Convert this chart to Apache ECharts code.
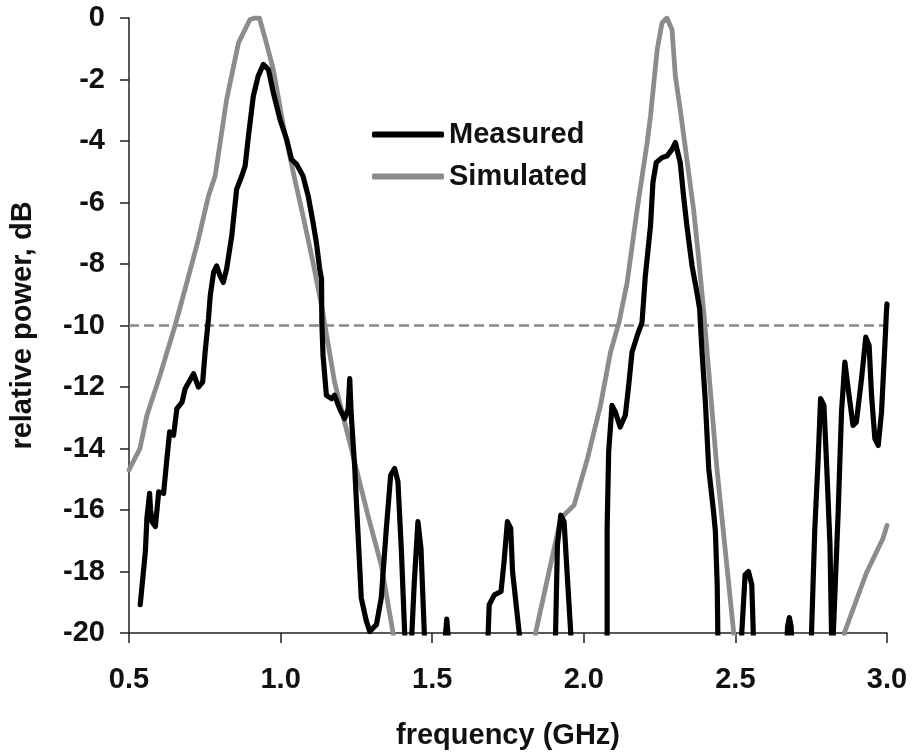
<!DOCTYPE html>
<html>
<head>
<meta charset="utf-8">
<script src="https://cdn.jsdelivr.net/npm/echarts@6/dist/echarts.min.js"></script>
<style>
  html, body { margin: 0; padding: 0; background: #fff; }
  #chart { width: 912px; height: 755px; }
</style>
</head>
<body>
<div id="chart"></div>
<script>
// Measured response (GHz, dB); points below -20 dB fall outside the plot and are clipped
const measuredFreq = [
  0.537, 0.554, 0.559, 0.568, 0.571, 0.576, 0.587, 0.598, 0.614, 0.625, 0.634, 0.647, 0.658, 0.675, 0.685,
  0.713, 0.729, 0.743, 0.751, 0.762, 0.768, 0.779, 0.789, 0.800, 0.811, 0.822, 0.839, 0.855, 0.872, 0.883,
  0.894, 0.910, 0.926, 0.943, 0.960, 0.976, 0.998, 1.020, 1.036, 1.053, 1.074, 1.091, 1.107, 1.118, 1.129,
  1.135, 1.136, 1.140, 1.151, 1.168, 1.178, 1.195, 1.211, 1.223, 1.228, 1.233, 1.244, 1.255, 1.266, 1.283,
  1.294, 1.316, 1.332, 1.348, 1.363, 1.376, 1.387, 1.398, 1.409, 1.420, 1.433, 1.441, 1.453, 1.463, 1.474,
  1.480, 1.520, 1.540, 1.548, 1.556, 1.600, 1.680, 1.685, 1.688, 1.705, 1.727, 1.737, 1.748, 1.759, 1.765,
  1.787, 1.800, 1.850, 1.904, 1.907, 1.913, 1.924, 1.935, 1.946, 1.957, 1.965, 2.020, 2.076, 2.077, 2.077,
  2.082, 2.093, 2.104, 2.120, 2.137, 2.148, 2.159, 2.176, 2.192, 2.203, 2.220, 2.228, 2.239, 2.258, 2.274,
  2.291, 2.302, 2.318, 2.329, 2.340, 2.357, 2.373, 2.382, 2.390, 2.401, 2.412, 2.428, 2.434, 2.440, 2.442,
  2.445, 2.480, 2.518, 2.521, 2.532, 2.543, 2.554, 2.559, 2.562, 2.620, 2.668, 2.672, 2.678, 2.684, 2.688,
  2.720, 2.748, 2.751, 2.762, 2.773, 2.781, 2.792, 2.801, 2.812, 2.817, 2.820, 2.823, 2.839, 2.850, 2.861,
  2.872, 2.888, 2.899, 2.916, 2.930, 2.941, 2.949, 2.960, 2.971, 2.982, 2.993, 2.998, 3.000
];
const measuredDb = [
  -19.08, -17.35, -16.27, -15.46, -16.0, -16.38, -16.54, -15.41, -15.46, -14.33, -13.46, -13.57, -12.7, -12.49, -12.06,
  -11.57, -12.0, -11.84, -10.87, -9.79, -9.03, -8.27, -8.06, -8.38, -8.6, -8.16, -7.08, -5.57, -5.14, -4.81,
  -3.84, -2.54, -1.89, -1.51, -1.68, -2.43, -3.3, -3.95, -4.6, -4.76, -5.14, -5.79, -6.65, -7.3, -8.16,
  -8.49, -9.9, -10.98, -12.27, -12.38, -12.27, -12.71, -13.03, -12.71, -11.73, -12.92, -14.54, -16.7, -18.86, -19.62,
  -19.95, -19.73, -18.86, -16.7, -14.87, -14.65, -15.08, -17.25, -19.95, -22, -20, -18.33, -16.38, -17.25, -20,
  -22, -25, -20.5, -19.55, -20.5, -25, -21, -19.9, -19.08, -18.76, -18.65, -17.68, -16.38, -16.6, -18.0,
  -20, -22, -25, -21, -19.95, -17.14, -16.17, -16.38, -18.22, -20, -22, -25, -22, -19.95, -16.6,
  -14.11, -12.6, -12.81, -13.3, -12.92, -11.95, -10.87, -10.33, -9.9, -8.38, -6.76, -5.35, -4.7, -4.54, -4.49,
  -4.27, -4.05, -4.7, -5.79, -6.76, -8.06, -8.92, -9.46, -10.87, -12.49, -14.65, -16.06, -16.7, -18.43, -20,
  -22, -25, -22, -20, -18.11, -18.0, -18.43, -20, -22, -25, -21, -19.8, -19.5, -19.8, -21,
  -25, -22, -20, -16.6, -14.33, -12.38, -12.6, -14.54, -17.14, -20, -21, -20, -16.06, -12.81, -11.19,
  -12.06, -13.25, -13.14, -11.73, -10.38, -10.65, -12.27, -13.68, -13.9, -12.81, -10.65, -9.57, -9.3
];

// Simulated response (GHz, dB)
const simulatedFreq = [
  0.500, 0.536, 0.559, 0.602, 0.652, 0.691, 0.729, 0.762, 0.784, 0.822, 0.861, 0.899, 0.915, 0.930, 0.953,
  0.976, 1.009, 1.042, 1.074, 1.107, 1.135, 1.178, 1.233, 1.288, 1.332, 1.370, 1.400, 1.600, 1.810, 1.842,
  1.924, 1.968, 2.012, 2.055, 2.088, 2.116, 2.143, 2.176, 2.209, 2.220, 2.242, 2.258, 2.274, 2.291, 2.302,
  2.318, 2.340, 2.362, 2.379, 2.396, 2.439, 2.494, 2.520, 2.700, 2.840, 2.861, 2.932, 2.987, 3.000
];
const simulatedDb = [
  -14.7, -14.0, -12.93, -11.63, -10.0, -8.6, -7.19, -5.79, -5.14, -2.65, -0.81, -0.05, 0, 0, -0.81,
  -1.68, -3.5, -5.03, -6.44, -7.95, -9.35, -11.84, -14.0, -16.17, -17.79, -19.95, -22, -30, -22, -19.95,
  -16.27, -15.84, -14.33, -12.6, -10.87, -9.9, -8.6, -6.22, -4.05, -3.19, -1.03, -0.16, 0, -0.38, -1.89,
  -2.97, -4.6, -6.22, -7.84, -9.6, -14.65, -19.95, -22, -30, -22, -19.95, -18.05, -16.92, -16.5
];

// -10 dB reference level across the band
const thresholdFreq = [0.5, 3.0];
const thresholdDb = [-10, -10];

const xTicks = { min: 0.5, max: 3.0, step: 0.5 };
const yTicks = { min: -20, max: 0, step: 2 };

const pairs = (xs, ys) => xs.map((x, i) => [x, ys[i]]);

const FONT = '"Liberation Sans", Arial, sans-serif';
const chart = echarts.init(document.getElementById('chart'), null, { renderer: 'canvas' });

chart.setOption({
  animation: false,
  backgroundColor: '#ffffff',
  grid: { left: 127, right: 25, top: 18, bottom: 120, containLabel: false },
  legend: {
    data: ['Measured', 'Simulated'],
    orient: 'vertical',
    left: 372,
    top: 120,
    padding: 0,
    icon: 'roundRect',
    itemWidth: 72,
    itemHeight: 6,
    itemGap: 13,
    textStyle: { fontFamily: FONT, fontSize: 29, fontWeight: 'bold', color: '#111' },
    selectedMode: false
  },
  xAxis: {
    type: 'value',
    min: xTicks.min,
    max: xTicks.max,
    interval: xTicks.step,
    name: 'frequency (GHz)',
    nameLocation: 'middle',
    nameGap: 88,
    nameTextStyle: { fontFamily: FONT, fontSize: 29, fontWeight: 'bold', color: '#111' },
    axisLine: { show: true, onZero: false, lineStyle: { color: '#222', width: 1.5 } },
    axisTick: { show: true, inside: false, length: 10, lineStyle: { color: '#222', width: 1.5 } },
    axisLabel: {
      margin: 32,
      fontFamily: FONT, fontSize: 29, fontWeight: 'bold', color: '#111',
      formatter: v => v.toFixed(1)
    },
    splitLine: { show: false }
  },
  yAxis: {
    type: 'value',
    min: yTicks.min,
    max: yTicks.max,
    interval: yTicks.step,
    name: 'relative power, dB',
    nameLocation: 'middle',
    nameGap: 92,
    nameTextStyle: { fontFamily: FONT, fontSize: 29, fontWeight: 'bold', color: '#111' },
    axisLine: { show: true, onZero: false, lineStyle: { color: '#222', width: 1.5 } },
    axisTick: { show: true, inside: false, length: 9, lineStyle: { color: '#222', width: 1.5 } },
    axisLabel: { margin: 24, fontFamily: FONT, fontSize: 29, fontWeight: 'bold', color: '#111' },
    splitLine: { show: false }
  },
  series: [
    {
      name: 'threshold',
      type: 'line',
      data: pairs(thresholdFreq, thresholdDb),
      showSymbol: false,
      silent: true,
      clip: false,
      lineStyle: { color: '#888888', width: 2.4, type: [10, 5] }
    },
    {
      name: 'Simulated',
      type: 'line',
      data: pairs(simulatedFreq, simulatedDb),
      showSymbol: false,
      clip: true,
      lineStyle: { color: '#8c8c8c', width: 4.8, cap: 'round', join: 'round' },
      itemStyle: { color: '#8c8c8c' }
    },
    {
      name: 'Measured',
      type: 'line',
      data: pairs(measuredFreq, measuredDb),
      showSymbol: false,
      clip: true,
      lineStyle: { color: '#000', width: 5.2, cap: 'round', join: 'round' },
      itemStyle: { color: '#000' }
    }
  ]
});
</script>
</body>
</html>
